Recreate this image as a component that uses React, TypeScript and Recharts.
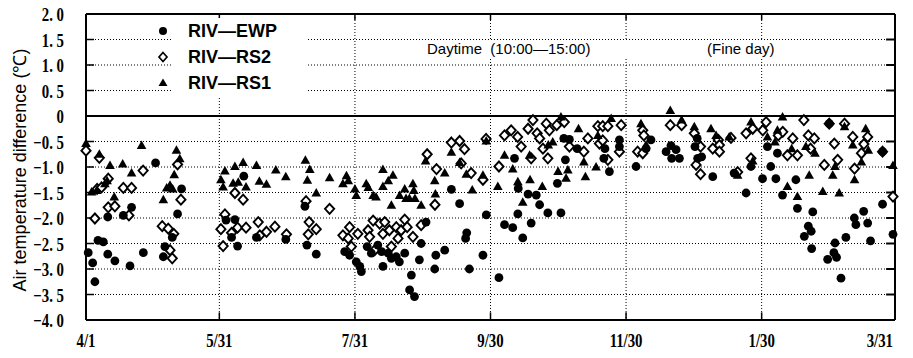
import React from "react";
import { ScatterChart, Scatter, XAxis, YAxis, CartesianGrid, ReferenceLine } from "recharts";

// day offset from 4/1, value (deg C)
const EWP_POINTS: [number, number][] = [
  [1,-2.68],[3,-2.88],[4,-3.25],[5.4,-2.44],[7.8,-2.47],[9.8,-1.98],[9.8,-2.71],[13,-2.84],[16.8,-1.95],[19.8,-2.94],[20.5,-1.79],[25.8,-2.68],[31.3,-0.92],[34.8,-2.76],[35.5,-2.56],[38.8,-2.38],[41.2,-1.92],[43,-1.43],
  [63,-2.04],[65.5,-2.38],[67,-2.03],[68.2,-2.55],[71,-1.18],[76.7,-2.38],[89.9,-2.42],[98.5,-1.77],[99.4,-2.53],[103.6,-2.71],
  [116.4,-2.66],[118.6,-2.73],[121.6,-2.86],[123.2,-2.95],[123.9,-3.05],[126.5,-2.56],[128.4,-2.69],[131.3,-2.53],[133,-2.66],[133.6,-2.95],[136,-2.69],[137.4,-2.79],[139.6,-2.76],[141,-2.86],[143.4,-2.69],[145.6,-3.41],[146.4,-3.12],[147.8,-3.54],[150,-2.82],[150.8,-2.5],[153,-2.08],[156.9,-3.0],[157.4,-2.73],[161.4,-2.63],[164.4,-1.44],[168.1,-1.72],
  [170.8,-2.4],[171.3,-2.29],[172.5,-3.0],[178.6,-2.73],[180.1,-1.94],[185.8,-3.17],[188.3,-2.13],[192,-2.19],[192.8,-0.83],[194.3,-1.92],[194.5,-1.42],[196.5,-2.39],[198.9,-1.53],[200.3,-2.1],[202.6,-1.55],[204.1,-1.74],[207.8,-1.9],[212.1,-1.32],[213.7,-1.9],[215.7,-0.86],[215,-0.44],[217.5,-0.46],[221,-0.64],
  [233.5,-0.64],[233,-0.83],[235.5,-1.09],[240,-0.47],[240,-0.6],[247.5,-0.99],[252,-0.64],[254.2,-0.47],[261,-0.7],[263.2,-0.58],[263.5,-0.83],[265.5,-0.66],[267,-0.83],[274,-0.6],[275,-0.44],[275.2,-0.83],[277,-0.8],[282,-1.19],[291.6,-1.12],
  [297,-1.51],[299.2,-0.99],[304.4,-1.23],[306.6,-0.6],[308.1,-0.99],[310.4,-1.23],[311.1,-0.73],[313.4,-1.55],[319.4,-1.25],[320.1,-1.81],[323.2,-2.36],[325,-2.16],[326.3,-2.26],[326.5,-2.6],[327,-1.88],[333.7,-2.81],[334.4,-0.15],[336.5,-2.68],[337,-2.49],[337.7,-2.77],[339.7,-3.18],[341.9,-2.38],[345.7,-2.0],[346.4,-2.13],[349.9,-1.87],[351.7,-2.1],[353,-2.45],[358.4,-0.7],[358.4,-1.73],[363.1,-2.32],
];

const RS2_POINTS: [number, number][] = [
  [0,-0.68],[4,-2.01],[5,-1.43],[6,-0.82],[7,-1.4],[10,-1.23],[10,-1.79],[13,-1.77],[16.8,-1.41],[19.3,-1.95],[20.5,-1.41],[25.7,-1.07],[34.3,-2.16],[37,-2.21],[37.8,-2.63],[38.8,-2.79],[39.5,-2.31],[41.2,-0.95],[42.7,-1.64],
  [60.7,-2.22],[61.7,-2.55],[62.5,-1.93],[65.5,-2.29],[67,-1.51],[68.2,-2.19],[70.7,-1.64],[72,-2.19],[77.5,-2.08],[78.2,-2.34],[81.2,-2.27],[85,-2.17],[90.2,-2.32],[99,-1.67],[100,-2.32],[100.4,-2.08],[103.6,-2.22],[109.6,-1.82],
  [115.6,-2.34],[118,-2.4],[118.6,-2.18],[119.4,-2.56],[122.3,-2.31],[126.9,-2.24],[127.6,-2.37],[129.2,-2.05],[129.9,-2.63],[132.1,-2.11],[133.6,-2.31],[134.4,-2.08],[136.5,-2.24],[137.4,-2.56],[139.6,-2.18],[140.4,-2.4],[141.8,-2.24],[143.4,-2.03],[144.5,-2.18],[147.1,-2.37],[150.8,-2.14],[153.5,-0.75],[157,-1.74],[157.7,-1.04],[164.4,-0.52],[168.1,-0.49],[170.3,-0.65],
  [168.8,-0.93],[173.3,-1.12],[178.6,-1.25],[180,-0.45],[185.8,-0.99],[188.3,-0.38],[191.3,-0.28],[194.2,-0.41],[195.8,-0.6],[198.9,-0.25],[200.3,-0.83],[201.1,-0.08],[203,-0.34],[204.1,-0.44],[205.6,-0.64],[207.1,-0.15],[207.8,-0.83],[208.5,-0.28],[211.8,-0.18],[215.2,-0.12],[217.5,-0.6],[224,-0.7],[225.8,-0.44],[230.3,-0.2],
  [231,-0.54],[232.5,-0.2],[232.5,-0.48],[234.8,-0.2],[234.8,-0.86],[240,-0.7],[240.8,-0.18],[248.2,-0.7],[250.5,-0.28],[250.5,-0.73],[251,-0.38],[262.9,-0.18],[268,-0.18],[273.7,-0.34],[274.5,-0.96],[276.5,-0.6],[276.5,-1.14],[282,-0.64],[284.5,-0.47],[285,-0.57],[285,-0.7],[293.2,-1.1],
  [290.2,-0.43],[297,-0.34],[299.2,-0.83],[300,-0.25],[304.5,-0.28],[306,-0.12],[311.5,-0.38],[313.5,-0.31],[315.6,-0.77],[318,-0.44],[320.1,-0.77],[323,-0.08],[325,-0.38],[326,-0.64],[327.7,-0.44],[332.2,-0.96],[334.4,-0.15],[336.7,-0.54],[338.2,-0.86],[341.3,-0.15],[345,-0.41],[345.8,-1.03],[348.9,-0.73],[350,-0.55],[351.7,-0.41],[358.4,-0.7],[363.1,-1.58],
];

const RS1_POINTS: [number, number][] = [
  [0,-0.54],[2.5,-1.49],[4.8,-1.46],[6,-0.75],[8.5,-1.33],[9.5,-1.27],[10.8,-0.97],[12.7,-1.59],[16.5,-0.94],[20.5,-1.12],[25,-0.58],[34.8,-1.64],[36.3,-1.41],[37.8,-1.36],[39,-1.43],[39.7,-1.15],[40.7,-0.67],[42.2,-0.84],
  [60.7,-1.25],[61.7,-1.39],[62.5,-1.08],[66.2,-1.32],[67,-0.99],[68.5,-1.3],[70.7,-0.91],[72,-1.39],[76.7,-0.97],[78,-1.28],[81.2,-1.34],[85.4,-1.06],[89.9,-1.19],[98.7,-0.87],[99.6,-1.26],[100.7,-1.05],[103.6,-1.51],[109.6,-1.21],
  [115.6,-1.33],[117.2,-1.17],[118,-1.27],[121,-1.43],[121.6,-1.56],[126.1,-1.33],[127,-1.4],[129.2,-1.56],[130.5,-1.59],[133.6,-1.05],[133.6,-1.38],[136,-1.27],[137.4,-1.75],[138.1,-1.16],[141.1,-1.56],[143.4,-1.43],[144,-1.62],[145.5,-1.62],[147.1,-1.33],[147.5,-1.46],[148,-1.62],[150.8,-1.75],[152.8,-0.88],[156.9,-1.27],[157.2,-1.53],[161.4,-1.12],[164.4,-0.71],[168.1,-0.91],[171.1,-1.14],
  [173.8,-1.45],[178.6,-1.16],[180.1,-0.49],[185.3,-1.38],[188.3,-0.77],[192,-1.04],[194.3,-1.29],[196.5,-1.69],[199.6,-0.77],[199.8,-1.25],[205.3,-1.38],[208,-0.57],[210,-0.51],[212.4,-1.09],[213.7,-0.02],[216,-1.22],[216.8,-1.06],[221.6,-0.25],[224,-0.9],[224.7,-1.19],[229.5,-1.0],
  [230.3,-0.38],[236.3,-0.05],[249.7,-0.15],[252,-0.57],[262.9,0.11],[268,-0.08],[273.7,-0.21],[281.2,-0.25],[283.5,-0.38],[289.4,-0.41],
  [293.2,-1.16],[299.2,-0.12],[300,-0.88],[306.6,-0.41],[310,-0.51],[311.1,-0.28],[313.4,-0.02],[315.6,-1.38],[317.5,-0.64],[320.1,-1.58],[323.9,-0.6],[325.4,-1.16],[328,-0.73],[331.5,-1.48],[336,-1.16],[337,-0.99],[338.9,-1.51],[341.3,-0.21],[345,-0.57],[345.8,-1.25],[348.9,-0.9],[350.8,-0.25],[352,-0.67],[363.1,-0.97],
];

const X_TICKS = [0, 60, 121, 182, 243, 304, 364];
const X_LABELS = ["4/1", "5/31", "7/31", "9/30", "11/30", "1/30", "3/31"];
const Y_TICKS = [-4, -3.5, -3, -2.5, -2, -1.5, -1, -0.5, 0, 0.5, 1, 1.5, 2];
const SERIES_NAMES = ["RIV—EWP", "RIV—RS2", "RIV—RS1"];
const Y_TITLE = "Air temperature difference (℃)";
const NOTE_TIME = "Daytime  (10:00—15:00)";
const NOTE_DAY = "(Fine day)";

const toObj = (arr: [number, number][]) => arr.map(([d, v]) => ({ d, v }));

const TICK_FONT = "'Liberation Serif', 'DejaVu Serif', serif";
const SANS = "'Liberation Sans', Arial, sans-serif";

const fmtY = (v: number) => {
  if (v === 0) return "0";
  const s = Math.abs(v).toFixed(1).replace(".", ". ");
  return (v < 0 ? "−" : "") + s;
};

const XTick = (props: any) => {
  const { x, y, payload } = props;
  const i = X_TICKS.indexOf(payload.value);
  const last = i === X_TICKS.length - 1;
  return (
    <g transform={`translate(${last ? x - 2 : x},${y + 27}) scale(0.78,1)`}>
      <text x={0} y={0} textAnchor={last ? "end" : "middle"} fontFamily={TICK_FONT} fontWeight="bold" fontSize={19} fill="#000">
        {X_LABELS[i]}
      </text>
    </g>
  );
};

const YTick = (props: any) => {
  const { x, y, payload } = props;
  return (
    <g transform={`translate(${x - 22},${y + 7}) scale(0.78,1)`}>
      <text x={0} y={0} textAnchor="end" fontFamily={TICK_FONT} fontWeight="bold" fontSize={19} fill="#000">
        {fmtY(payload.value)}
      </text>
    </g>
  );
};

const CircleShape = (p: any) => <circle cx={p.cx} cy={p.cy} r={4.4} fill="#000" />;
const DiamondShape = (p: any) => (
  <path d={`M${p.cx},${p.cy - 5} L${p.cx + 4.6},${p.cy} L${p.cx},${p.cy + 5} L${p.cx - 4.6},${p.cy} Z`} fill="#fff" stroke="#000" strokeWidth={1.9} />
);
const TriangleShape = (p: any) => (
  <path d={`M${p.cx},${p.cy - 5} L${p.cx + 4.8},${p.cy + 3.5} L${p.cx - 4.8},${p.cy + 3.5} Z`} fill="#000" />
);

const legendMarker = (k: number) => {
  if (k === 0) return <circle cx={6} cy={6} r={4} fill="#000" />;
  if (k === 1) return <path d="M6,1.5 L10,6 L6,10.5 L2,6 Z" fill="#fff" stroke="#000" strokeWidth={1.7} />;
  return <path d="M6,1.5 L10.5,9 L1.5,9 Z" fill="#000" />;
};

export default function App() {
  const ewp = toObj(EWP_POINTS);
  const rs2 = toObj(RS2_POINTS);
  const rs1 = toObj(RS1_POINTS);
  const legendRows = [31, 57, 83];
  return (
    <div style={{ position: "absolute", left: 0, top: 0, width: 913, height: 358, background: "#fff" }}>
      <ScatterChart width={913} height={358} margin={{ top: 14, right: 18, bottom: 0, left: 0 }}>
        <CartesianGrid stroke="#000" strokeDasharray="1 2" strokeWidth={1} />
        <XAxis
          type="number"
          dataKey="d"
          domain={[0, 364]}
          ticks={X_TICKS}
          interval={0}
          height={38}
          tickSize={0}
          tickMargin={0}
          tickLine={false}
          tick={<XTick />}
          axisLine={{ stroke: "#000", strokeWidth: 2 }}
        />
        <YAxis
          type="number"
          dataKey="v"
          domain={[-4, 2]}
          ticks={Y_TICKS}
          interval={0}
          width={86}
          tickSize={0}
          tickMargin={0}
          tickLine={false}
          tick={<YTick />}
          axisLine={{ stroke: "#000", strokeWidth: 2 }}
        />
        <ReferenceLine y={0} stroke="#000" strokeWidth={2} />
        <ReferenceLine y={2} stroke="#000" strokeWidth={2} />
        <ReferenceLine x={364} stroke="#000" strokeWidth={2} />
        {Y_TICKS.map((t) => (
          <ReferenceLine key={"l" + t} segment={[{ x: 0, y: t }, { x: 3.6, y: t }]} stroke="#000" strokeWidth={1.5} />
        ))}
        {Y_TICKS.map((t) => (
          <ReferenceLine key={"r" + t} segment={[{ x: 360, y: t }, { x: 364, y: t }]} stroke="#000" strokeWidth={2} />
        ))}
        {X_TICKS.slice(1, -1).map((t) => (
          <ReferenceLine key={"b" + t} segment={[{ x: t, y: -4 }, { x: t, y: -3.85 }]} stroke="#000" strokeWidth={1.5} />
        ))}
        {X_TICKS.slice(1, -1).map((t) => (
          <ReferenceLine key={"t" + t} segment={[{ x: t, y: 2 }, { x: t, y: 1.88 }]} stroke="#000" strokeWidth={1.5} />
        ))}
        <Scatter name={SERIES_NAMES[1]} data={rs2} shape={DiamondShape} isAnimationActive={false} />
        <Scatter name={SERIES_NAMES[2]} data={rs1} shape={TriangleShape} isAnimationActive={false} />
        <Scatter name={SERIES_NAMES[0]} data={ewp} shape={CircleShape} isAnimationActive={false} />
      </ScatterChart>

      {/* legend */}
      <div style={{ position: "absolute", left: 172, top: 18, width: 134, height: 78, background: "#fff" }} />
      {SERIES_NAMES.map((name, k) => (
        <React.Fragment key={name}>
          <svg width={12} height={12} style={{ position: "absolute", left: 157, top: legendRows[k] - 6 }}>
            {legendMarker(k)}
          </svg>
          <div
            style={{
              position: "absolute",
              left: 188,
              top: legendRows[k] - 10,
              height: 20,
              lineHeight: "20px",
              fontFamily: SANS,
              fontWeight: "bold",
              fontSize: 18,
              whiteSpace: "pre",
              color: "#000",
            }}
          >
            {name}
          </div>
        </React.Fragment>
      ))}

      {/* annotation */}
      <div style={{ position: "absolute", left: 420, top: 41, width: 380, height: 18, background: "#fff" }} />
      <div style={{ position: "absolute", left: 427, top: 40, lineHeight: "18px", fontFamily: SANS, fontSize: 15, whiteSpace: "pre", color: "#000" }}>
        {NOTE_TIME}
      </div>
      <div style={{ position: "absolute", left: 707, top: 40, lineHeight: "18px", fontFamily: SANS, fontSize: 15, whiteSpace: "pre", color: "#000" }}>
        {NOTE_DAY}
      </div>

      {/* y axis title */}
      <div
        style={{
          position: "absolute",
          left: 20 - 160,
          top: 170 - 11,
          width: 320,
          height: 22,
          lineHeight: "22px",
          textAlign: "center",
          transform: "rotate(-90deg)",
          fontFamily: SANS,
          fontSize: 18,
          whiteSpace: "pre",
          color: "#000",
        }}
      >
        {Y_TITLE}
      </div>
    </div>
  );
}
